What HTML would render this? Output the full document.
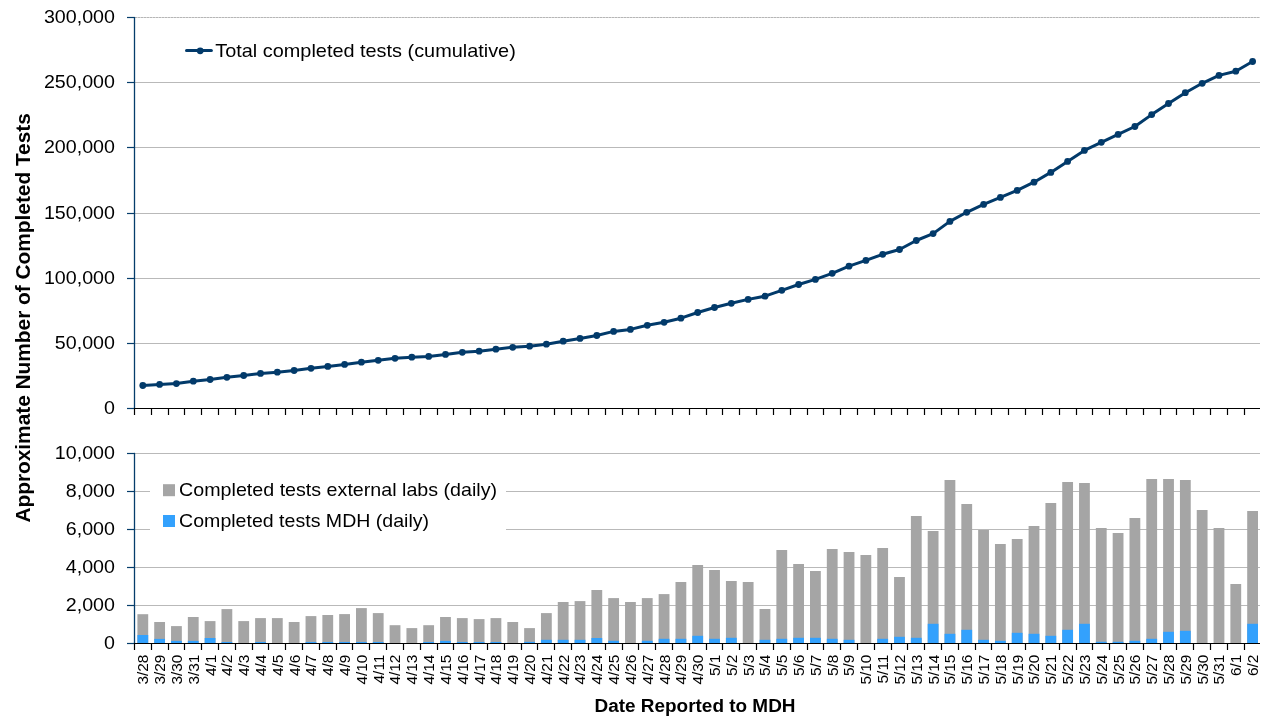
<!DOCTYPE html><html><head><meta charset="utf-8"><title>Completed Tests</title><style>html,body{margin:0;padding:0;background:#fff;width:1280px;height:720px;overflow:hidden}svg{display:block;will-change:transform}text{font-family:"Liberation Sans",sans-serif}</style></head><body>
<svg width="1280" height="720" viewBox="0 0 1280 720">
<rect width="1280" height="720" fill="#fff"/>
<line x1="135" y1="17.5" x2="1260.0" y2="17.5" stroke="#D6D6D6" stroke-width="1"/>
<line x1="135" y1="17.5" x2="1260.0" y2="17.5" stroke="#B6B6B6" stroke-width="1" stroke-dasharray="2,1"/>
<line x1="135" y1="82.5" x2="1260.0" y2="82.5" stroke="#B9B9B9" stroke-width="1"/>
<line x1="135" y1="147.5" x2="1260.0" y2="147.5" stroke="#B9B9B9" stroke-width="1"/>
<line x1="135" y1="213.5" x2="1260.0" y2="213.5" stroke="#B9B9B9" stroke-width="1"/>
<line x1="135" y1="278.5" x2="1260.0" y2="278.5" stroke="#B9B9B9" stroke-width="1"/>
<line x1="135" y1="343.5" x2="1260.0" y2="343.5" stroke="#B9B9B9" stroke-width="1"/>
<line x1="127" y1="17.5" x2="135" y2="17.5" stroke="#053D6B" stroke-width="1.2"/>
<line x1="127" y1="82.5" x2="135" y2="82.5" stroke="#053D6B" stroke-width="1.2"/>
<line x1="127" y1="147.5" x2="135" y2="147.5" stroke="#053D6B" stroke-width="1.2"/>
<line x1="127" y1="213.5" x2="135" y2="213.5" stroke="#053D6B" stroke-width="1.2"/>
<line x1="127" y1="278.5" x2="135" y2="278.5" stroke="#053D6B" stroke-width="1.2"/>
<line x1="127" y1="343.5" x2="135" y2="343.5" stroke="#053D6B" stroke-width="1.2"/>
<line x1="127" y1="408.5" x2="135" y2="408.5" stroke="#053D6B" stroke-width="1.2"/>
<line x1="134.5" y1="16.9" x2="134.5" y2="408.5" stroke="#053D6B" stroke-width="1.3"/>
<line x1="134" y1="408.5" x2="1260.0" y2="408.5" stroke="#000" stroke-width="1.2"/>
<line x1="134.5" y1="408.5" x2="134.5" y2="415" stroke="#000" stroke-width="1.2"/>
<line x1="151.5" y1="408.5" x2="151.5" y2="415" stroke="#000" stroke-width="1.2"/>
<line x1="168.5" y1="408.5" x2="168.5" y2="415" stroke="#000" stroke-width="1.2"/>
<line x1="184.5" y1="408.5" x2="184.5" y2="415" stroke="#000" stroke-width="1.2"/>
<line x1="201.5" y1="408.5" x2="201.5" y2="415" stroke="#000" stroke-width="1.2"/>
<line x1="218.5" y1="408.5" x2="218.5" y2="415" stroke="#000" stroke-width="1.2"/>
<line x1="235.5" y1="408.5" x2="235.5" y2="415" stroke="#000" stroke-width="1.2"/>
<line x1="252.5" y1="408.5" x2="252.5" y2="415" stroke="#000" stroke-width="1.2"/>
<line x1="268.5" y1="408.5" x2="268.5" y2="415" stroke="#000" stroke-width="1.2"/>
<line x1="285.5" y1="408.5" x2="285.5" y2="415" stroke="#000" stroke-width="1.2"/>
<line x1="302.5" y1="408.5" x2="302.5" y2="415" stroke="#000" stroke-width="1.2"/>
<line x1="319.5" y1="408.5" x2="319.5" y2="415" stroke="#000" stroke-width="1.2"/>
<line x1="336.5" y1="408.5" x2="336.5" y2="415" stroke="#000" stroke-width="1.2"/>
<line x1="352.5" y1="408.5" x2="352.5" y2="415" stroke="#000" stroke-width="1.2"/>
<line x1="369.5" y1="408.5" x2="369.5" y2="415" stroke="#000" stroke-width="1.2"/>
<line x1="386.5" y1="408.5" x2="386.5" y2="415" stroke="#000" stroke-width="1.2"/>
<line x1="403.5" y1="408.5" x2="403.5" y2="415" stroke="#000" stroke-width="1.2"/>
<line x1="420.5" y1="408.5" x2="420.5" y2="415" stroke="#000" stroke-width="1.2"/>
<line x1="437.5" y1="408.5" x2="437.5" y2="415" stroke="#000" stroke-width="1.2"/>
<line x1="453.5" y1="408.5" x2="453.5" y2="415" stroke="#000" stroke-width="1.2"/>
<line x1="470.5" y1="408.5" x2="470.5" y2="415" stroke="#000" stroke-width="1.2"/>
<line x1="487.5" y1="408.5" x2="487.5" y2="415" stroke="#000" stroke-width="1.2"/>
<line x1="504.5" y1="408.5" x2="504.5" y2="415" stroke="#000" stroke-width="1.2"/>
<line x1="521.5" y1="408.5" x2="521.5" y2="415" stroke="#000" stroke-width="1.2"/>
<line x1="537.5" y1="408.5" x2="537.5" y2="415" stroke="#000" stroke-width="1.2"/>
<line x1="554.5" y1="408.5" x2="554.5" y2="415" stroke="#000" stroke-width="1.2"/>
<line x1="571.5" y1="408.5" x2="571.5" y2="415" stroke="#000" stroke-width="1.2"/>
<line x1="588.5" y1="408.5" x2="588.5" y2="415" stroke="#000" stroke-width="1.2"/>
<line x1="605.5" y1="408.5" x2="605.5" y2="415" stroke="#000" stroke-width="1.2"/>
<line x1="622.5" y1="408.5" x2="622.5" y2="415" stroke="#000" stroke-width="1.2"/>
<line x1="638.5" y1="408.5" x2="638.5" y2="415" stroke="#000" stroke-width="1.2"/>
<line x1="655.5" y1="408.5" x2="655.5" y2="415" stroke="#000" stroke-width="1.2"/>
<line x1="672.5" y1="408.5" x2="672.5" y2="415" stroke="#000" stroke-width="1.2"/>
<line x1="689.5" y1="408.5" x2="689.5" y2="415" stroke="#000" stroke-width="1.2"/>
<line x1="706.5" y1="408.5" x2="706.5" y2="415" stroke="#000" stroke-width="1.2"/>
<line x1="722.5" y1="408.5" x2="722.5" y2="415" stroke="#000" stroke-width="1.2"/>
<line x1="739.5" y1="408.5" x2="739.5" y2="415" stroke="#000" stroke-width="1.2"/>
<line x1="756.5" y1="408.5" x2="756.5" y2="415" stroke="#000" stroke-width="1.2"/>
<line x1="773.5" y1="408.5" x2="773.5" y2="415" stroke="#000" stroke-width="1.2"/>
<line x1="790.5" y1="408.5" x2="790.5" y2="415" stroke="#000" stroke-width="1.2"/>
<line x1="807.5" y1="408.5" x2="807.5" y2="415" stroke="#000" stroke-width="1.2"/>
<line x1="823.5" y1="408.5" x2="823.5" y2="415" stroke="#000" stroke-width="1.2"/>
<line x1="840.5" y1="408.5" x2="840.5" y2="415" stroke="#000" stroke-width="1.2"/>
<line x1="857.5" y1="408.5" x2="857.5" y2="415" stroke="#000" stroke-width="1.2"/>
<line x1="874.5" y1="408.5" x2="874.5" y2="415" stroke="#000" stroke-width="1.2"/>
<line x1="891.5" y1="408.5" x2="891.5" y2="415" stroke="#000" stroke-width="1.2"/>
<line x1="907.5" y1="408.5" x2="907.5" y2="415" stroke="#000" stroke-width="1.2"/>
<line x1="924.5" y1="408.5" x2="924.5" y2="415" stroke="#000" stroke-width="1.2"/>
<line x1="941.5" y1="408.5" x2="941.5" y2="415" stroke="#000" stroke-width="1.2"/>
<line x1="958.5" y1="408.5" x2="958.5" y2="415" stroke="#000" stroke-width="1.2"/>
<line x1="975.5" y1="408.5" x2="975.5" y2="415" stroke="#000" stroke-width="1.2"/>
<line x1="991.5" y1="408.5" x2="991.5" y2="415" stroke="#000" stroke-width="1.2"/>
<line x1="1008.5" y1="408.5" x2="1008.5" y2="415" stroke="#000" stroke-width="1.2"/>
<line x1="1025.5" y1="408.5" x2="1025.5" y2="415" stroke="#000" stroke-width="1.2"/>
<line x1="1042.5" y1="408.5" x2="1042.5" y2="415" stroke="#000" stroke-width="1.2"/>
<line x1="1059.5" y1="408.5" x2="1059.5" y2="415" stroke="#000" stroke-width="1.2"/>
<line x1="1076.5" y1="408.5" x2="1076.5" y2="415" stroke="#000" stroke-width="1.2"/>
<line x1="1092.5" y1="408.5" x2="1092.5" y2="415" stroke="#000" stroke-width="1.2"/>
<line x1="1109.5" y1="408.5" x2="1109.5" y2="415" stroke="#000" stroke-width="1.2"/>
<line x1="1126.5" y1="408.5" x2="1126.5" y2="415" stroke="#000" stroke-width="1.2"/>
<line x1="1143.5" y1="408.5" x2="1143.5" y2="415" stroke="#000" stroke-width="1.2"/>
<line x1="1160.5" y1="408.5" x2="1160.5" y2="415" stroke="#000" stroke-width="1.2"/>
<line x1="1176.5" y1="408.5" x2="1176.5" y2="415" stroke="#000" stroke-width="1.2"/>
<line x1="1193.5" y1="408.5" x2="1193.5" y2="415" stroke="#000" stroke-width="1.2"/>
<line x1="1210.5" y1="408.5" x2="1210.5" y2="415" stroke="#000" stroke-width="1.2"/>
<line x1="1227.5" y1="408.5" x2="1227.5" y2="415" stroke="#000" stroke-width="1.2"/>
<line x1="1244.5" y1="408.5" x2="1244.5" y2="415" stroke="#000" stroke-width="1.2"/>
<text transform="translate(114.95,23.15) scale(1.08,1)" font-size="18.2" text-anchor="end">300,000</text>
<text transform="translate(114.95,88.15) scale(1.08,1)" font-size="18.2" text-anchor="end">250,000</text>
<text transform="translate(114.95,153.15) scale(1.08,1)" font-size="18.2" text-anchor="end">200,000</text>
<text transform="translate(114.95,219.15) scale(1.08,1)" font-size="18.2" text-anchor="end">150,000</text>
<text transform="translate(114.95,284.15) scale(1.08,1)" font-size="18.2" text-anchor="end">100,000</text>
<text transform="translate(114.95,349.15) scale(1.08,1)" font-size="18.2" text-anchor="end">50,000</text>
<text transform="translate(114.95,414.15) scale(1.08,1)" font-size="18.2" text-anchor="end">0</text>
<polyline points="142.8,385.5 159.6,384.4 176.4,383.6 193.3,381.2 210.1,379.5 226.9,377.3 243.7,375.5 260.5,373.4 277.3,372.2 294.1,370.5 311.0,368.3 327.8,366.4 344.6,364.4 361.4,362.2 378.2,360.3 395.0,358.3 411.8,357.2 428.7,356.4 445.5,354.4 462.3,352.3 479.1,351.2 495.9,349.2 512.7,347.3 529.6,346.2 546.4,344.2 563.2,341.2 580.0,338.4 596.8,335.5 613.6,331.4 630.4,329.4 647.3,325.3 664.1,322.3 680.9,318.2 697.7,312.5 714.5,307.5 731.3,303.3 748.1,299.4 765.0,296.2 781.8,290.3 798.6,284.5 815.4,279.4 832.2,273.3 849.0,266.2 865.9,260.4 882.7,254.3 899.5,249.5 916.3,240.5 933.1,233.6 949.9,221.4 966.7,212.3 983.6,204.4 1000.4,197.4 1017.2,190.4 1034.0,182.2 1050.8,172.4 1067.6,161.4 1084.4,150.4 1101.3,142.3 1118.1,134.4 1134.9,126.5 1151.7,114.6 1168.5,103.5 1185.3,92.7 1202.2,83.3 1219.0,75.4 1235.8,71.2 1252.6,61.5" fill="none" stroke="#023A6A" stroke-width="3" stroke-linejoin="round"/>
<circle cx="142.8" cy="385.5" r="3.4" fill="#023A6A"/>
<circle cx="159.6" cy="384.4" r="3.4" fill="#023A6A"/>
<circle cx="176.4" cy="383.6" r="3.4" fill="#023A6A"/>
<circle cx="193.3" cy="381.2" r="3.4" fill="#023A6A"/>
<circle cx="210.1" cy="379.5" r="3.4" fill="#023A6A"/>
<circle cx="226.9" cy="377.3" r="3.4" fill="#023A6A"/>
<circle cx="243.7" cy="375.5" r="3.4" fill="#023A6A"/>
<circle cx="260.5" cy="373.4" r="3.4" fill="#023A6A"/>
<circle cx="277.3" cy="372.2" r="3.4" fill="#023A6A"/>
<circle cx="294.1" cy="370.5" r="3.4" fill="#023A6A"/>
<circle cx="311.0" cy="368.3" r="3.4" fill="#023A6A"/>
<circle cx="327.8" cy="366.4" r="3.4" fill="#023A6A"/>
<circle cx="344.6" cy="364.4" r="3.4" fill="#023A6A"/>
<circle cx="361.4" cy="362.2" r="3.4" fill="#023A6A"/>
<circle cx="378.2" cy="360.3" r="3.4" fill="#023A6A"/>
<circle cx="395.0" cy="358.3" r="3.4" fill="#023A6A"/>
<circle cx="411.8" cy="357.2" r="3.4" fill="#023A6A"/>
<circle cx="428.7" cy="356.4" r="3.4" fill="#023A6A"/>
<circle cx="445.5" cy="354.4" r="3.4" fill="#023A6A"/>
<circle cx="462.3" cy="352.3" r="3.4" fill="#023A6A"/>
<circle cx="479.1" cy="351.2" r="3.4" fill="#023A6A"/>
<circle cx="495.9" cy="349.2" r="3.4" fill="#023A6A"/>
<circle cx="512.7" cy="347.3" r="3.4" fill="#023A6A"/>
<circle cx="529.6" cy="346.2" r="3.4" fill="#023A6A"/>
<circle cx="546.4" cy="344.2" r="3.4" fill="#023A6A"/>
<circle cx="563.2" cy="341.2" r="3.4" fill="#023A6A"/>
<circle cx="580.0" cy="338.4" r="3.4" fill="#023A6A"/>
<circle cx="596.8" cy="335.5" r="3.4" fill="#023A6A"/>
<circle cx="613.6" cy="331.4" r="3.4" fill="#023A6A"/>
<circle cx="630.4" cy="329.4" r="3.4" fill="#023A6A"/>
<circle cx="647.3" cy="325.3" r="3.4" fill="#023A6A"/>
<circle cx="664.1" cy="322.3" r="3.4" fill="#023A6A"/>
<circle cx="680.9" cy="318.2" r="3.4" fill="#023A6A"/>
<circle cx="697.7" cy="312.5" r="3.4" fill="#023A6A"/>
<circle cx="714.5" cy="307.5" r="3.4" fill="#023A6A"/>
<circle cx="731.3" cy="303.3" r="3.4" fill="#023A6A"/>
<circle cx="748.1" cy="299.4" r="3.4" fill="#023A6A"/>
<circle cx="765.0" cy="296.2" r="3.4" fill="#023A6A"/>
<circle cx="781.8" cy="290.3" r="3.4" fill="#023A6A"/>
<circle cx="798.6" cy="284.5" r="3.4" fill="#023A6A"/>
<circle cx="815.4" cy="279.4" r="3.4" fill="#023A6A"/>
<circle cx="832.2" cy="273.3" r="3.4" fill="#023A6A"/>
<circle cx="849.0" cy="266.2" r="3.4" fill="#023A6A"/>
<circle cx="865.9" cy="260.4" r="3.4" fill="#023A6A"/>
<circle cx="882.7" cy="254.3" r="3.4" fill="#023A6A"/>
<circle cx="899.5" cy="249.5" r="3.4" fill="#023A6A"/>
<circle cx="916.3" cy="240.5" r="3.4" fill="#023A6A"/>
<circle cx="933.1" cy="233.6" r="3.4" fill="#023A6A"/>
<circle cx="949.9" cy="221.4" r="3.4" fill="#023A6A"/>
<circle cx="966.7" cy="212.3" r="3.4" fill="#023A6A"/>
<circle cx="983.6" cy="204.4" r="3.4" fill="#023A6A"/>
<circle cx="1000.4" cy="197.4" r="3.4" fill="#023A6A"/>
<circle cx="1017.2" cy="190.4" r="3.4" fill="#023A6A"/>
<circle cx="1034.0" cy="182.2" r="3.4" fill="#023A6A"/>
<circle cx="1050.8" cy="172.4" r="3.4" fill="#023A6A"/>
<circle cx="1067.6" cy="161.4" r="3.4" fill="#023A6A"/>
<circle cx="1084.4" cy="150.4" r="3.4" fill="#023A6A"/>
<circle cx="1101.3" cy="142.3" r="3.4" fill="#023A6A"/>
<circle cx="1118.1" cy="134.4" r="3.4" fill="#023A6A"/>
<circle cx="1134.9" cy="126.5" r="3.4" fill="#023A6A"/>
<circle cx="1151.7" cy="114.6" r="3.4" fill="#023A6A"/>
<circle cx="1168.5" cy="103.5" r="3.4" fill="#023A6A"/>
<circle cx="1185.3" cy="92.7" r="3.4" fill="#023A6A"/>
<circle cx="1202.2" cy="83.3" r="3.4" fill="#023A6A"/>
<circle cx="1219.0" cy="75.4" r="3.4" fill="#023A6A"/>
<circle cx="1235.8" cy="71.2" r="3.4" fill="#023A6A"/>
<circle cx="1252.6" cy="61.5" r="3.4" fill="#023A6A"/>
<line x1="186.5" y1="50.6" x2="211.4" y2="50.6" stroke="#023A6A" stroke-width="3" stroke-linecap="round"/>
<circle cx="200.2" cy="50.8" r="3.4" fill="#023A6A"/>
<text x="215.3" y="56.9" font-size="17.7" textLength="300.5" lengthAdjust="spacingAndGlyphs">Total completed tests (cumulative)</text>
<line x1="135" y1="453.5" x2="1260.0" y2="453.5" stroke="#B9B9B9" stroke-width="1"/>
<line x1="135" y1="491.5" x2="1260.0" y2="491.5" stroke="#B9B9B9" stroke-width="1"/>
<line x1="135" y1="529.5" x2="1260.0" y2="529.5" stroke="#B9B9B9" stroke-width="1"/>
<line x1="135" y1="567.5" x2="1260.0" y2="567.5" stroke="#B9B9B9" stroke-width="1"/>
<line x1="135" y1="605.5" x2="1260.0" y2="605.5" stroke="#B9B9B9" stroke-width="1"/>
<rect x="137.41" y="614.2" width="10.8" height="29.3" fill="#A5A5A5"/>
<rect x="137.41" y="635.0" width="10.8" height="8.5" fill="#33A1FD"/>
<rect x="154.22" y="622.0" width="10.8" height="21.5" fill="#A5A5A5"/>
<rect x="154.22" y="638.9" width="10.8" height="4.6" fill="#33A1FD"/>
<rect x="171.04" y="626.1" width="10.8" height="17.4" fill="#A5A5A5"/>
<rect x="171.04" y="640.9" width="10.8" height="2.6" fill="#33A1FD"/>
<rect x="187.85" y="617.0" width="10.8" height="26.5" fill="#A5A5A5"/>
<rect x="187.85" y="640.9" width="10.8" height="2.6" fill="#33A1FD"/>
<rect x="204.67" y="621.1" width="10.8" height="22.4" fill="#A5A5A5"/>
<rect x="204.67" y="638.0" width="10.8" height="5.5" fill="#33A1FD"/>
<rect x="221.48" y="609.1" width="10.8" height="34.4" fill="#A5A5A5"/>
<rect x="221.48" y="642.0" width="10.8" height="1.5" fill="#33A1FD"/>
<rect x="238.30" y="621.1" width="10.8" height="22.4" fill="#A5A5A5"/>
<rect x="255.11" y="618.1" width="10.8" height="25.4" fill="#A5A5A5"/>
<rect x="255.11" y="642.0" width="10.8" height="1.5" fill="#33A1FD"/>
<rect x="271.93" y="618.1" width="10.8" height="25.4" fill="#A5A5A5"/>
<rect x="288.74" y="622.0" width="10.8" height="21.5" fill="#A5A5A5"/>
<rect x="305.56" y="616.1" width="10.8" height="27.4" fill="#A5A5A5"/>
<rect x="305.56" y="642.0" width="10.8" height="1.5" fill="#33A1FD"/>
<rect x="322.37" y="615.0" width="10.8" height="28.5" fill="#A5A5A5"/>
<rect x="322.37" y="642.0" width="10.8" height="1.5" fill="#33A1FD"/>
<rect x="339.19" y="614.1" width="10.8" height="29.4" fill="#A5A5A5"/>
<rect x="339.19" y="642.0" width="10.8" height="1.5" fill="#33A1FD"/>
<rect x="356.00" y="608.1" width="10.8" height="35.4" fill="#A5A5A5"/>
<rect x="356.00" y="642.0" width="10.8" height="1.5" fill="#33A1FD"/>
<rect x="372.82" y="613.1" width="10.8" height="30.4" fill="#A5A5A5"/>
<rect x="372.82" y="642.0" width="10.8" height="1.5" fill="#33A1FD"/>
<rect x="389.63" y="625.2" width="10.8" height="18.3" fill="#A5A5A5"/>
<rect x="406.45" y="628.1" width="10.8" height="15.4" fill="#A5A5A5"/>
<rect x="423.26" y="625.2" width="10.8" height="18.3" fill="#A5A5A5"/>
<rect x="423.26" y="642.0" width="10.8" height="1.5" fill="#33A1FD"/>
<rect x="440.08" y="617.0" width="10.8" height="26.5" fill="#A5A5A5"/>
<rect x="440.08" y="640.9" width="10.8" height="2.6" fill="#33A1FD"/>
<rect x="456.89" y="618.1" width="10.8" height="25.4" fill="#A5A5A5"/>
<rect x="456.89" y="642.0" width="10.8" height="1.5" fill="#33A1FD"/>
<rect x="473.71" y="619.1" width="10.8" height="24.4" fill="#A5A5A5"/>
<rect x="473.71" y="642.0" width="10.8" height="1.5" fill="#33A1FD"/>
<rect x="490.52" y="618.1" width="10.8" height="25.4" fill="#A5A5A5"/>
<rect x="490.52" y="642.0" width="10.8" height="1.5" fill="#33A1FD"/>
<rect x="507.34" y="622.0" width="10.8" height="21.5" fill="#A5A5A5"/>
<rect x="524.15" y="628.1" width="10.8" height="15.4" fill="#A5A5A5"/>
<rect x="524.15" y="641.9" width="10.8" height="1.6" fill="#33A1FD"/>
<rect x="540.97" y="613.1" width="10.8" height="30.4" fill="#A5A5A5"/>
<rect x="540.97" y="639.8" width="10.8" height="3.7" fill="#33A1FD"/>
<rect x="557.78" y="602.0" width="10.8" height="41.5" fill="#A5A5A5"/>
<rect x="557.78" y="639.8" width="10.8" height="3.7" fill="#33A1FD"/>
<rect x="574.60" y="601.1" width="10.8" height="42.4" fill="#A5A5A5"/>
<rect x="574.60" y="639.8" width="10.8" height="3.7" fill="#33A1FD"/>
<rect x="591.41" y="590.0" width="10.8" height="53.5" fill="#A5A5A5"/>
<rect x="591.41" y="638.0" width="10.8" height="5.5" fill="#33A1FD"/>
<rect x="608.23" y="598.1" width="10.8" height="45.4" fill="#A5A5A5"/>
<rect x="608.23" y="640.8" width="10.8" height="2.7" fill="#33A1FD"/>
<rect x="625.04" y="602.0" width="10.8" height="41.5" fill="#A5A5A5"/>
<rect x="641.86" y="598.1" width="10.8" height="45.4" fill="#A5A5A5"/>
<rect x="641.86" y="640.8" width="10.8" height="2.7" fill="#33A1FD"/>
<rect x="658.67" y="594.1" width="10.8" height="49.4" fill="#A5A5A5"/>
<rect x="658.67" y="638.8" width="10.8" height="4.8" fill="#33A1FD"/>
<rect x="675.49" y="582.0" width="10.8" height="61.5" fill="#A5A5A5"/>
<rect x="675.49" y="638.8" width="10.8" height="4.8" fill="#33A1FD"/>
<rect x="692.30" y="565.0" width="10.8" height="78.5" fill="#A5A5A5"/>
<rect x="692.30" y="635.8" width="10.8" height="7.7" fill="#33A1FD"/>
<rect x="709.12" y="570.0" width="10.8" height="73.5" fill="#A5A5A5"/>
<rect x="709.12" y="638.8" width="10.8" height="4.7" fill="#33A1FD"/>
<rect x="725.93" y="581.0" width="10.8" height="62.5" fill="#A5A5A5"/>
<rect x="725.93" y="637.8" width="10.8" height="5.7" fill="#33A1FD"/>
<rect x="742.75" y="582.0" width="10.8" height="61.5" fill="#A5A5A5"/>
<rect x="759.56" y="609.0" width="10.8" height="34.5" fill="#A5A5A5"/>
<rect x="759.56" y="639.8" width="10.8" height="3.7" fill="#33A1FD"/>
<rect x="776.38" y="550.0" width="10.8" height="93.5" fill="#A5A5A5"/>
<rect x="776.38" y="638.8" width="10.8" height="4.7" fill="#33A1FD"/>
<rect x="793.19" y="564.0" width="10.8" height="79.5" fill="#A5A5A5"/>
<rect x="793.19" y="637.8" width="10.8" height="5.7" fill="#33A1FD"/>
<rect x="810.01" y="571.0" width="10.8" height="72.5" fill="#A5A5A5"/>
<rect x="810.01" y="637.8" width="10.8" height="5.7" fill="#33A1FD"/>
<rect x="826.82" y="549.0" width="10.8" height="94.5" fill="#A5A5A5"/>
<rect x="826.82" y="638.8" width="10.8" height="4.7" fill="#33A1FD"/>
<rect x="843.64" y="552.0" width="10.8" height="91.5" fill="#A5A5A5"/>
<rect x="843.64" y="639.8" width="10.8" height="3.7" fill="#33A1FD"/>
<rect x="860.45" y="555.0" width="10.8" height="88.5" fill="#A5A5A5"/>
<rect x="877.27" y="548.0" width="10.8" height="95.5" fill="#A5A5A5"/>
<rect x="877.27" y="638.8" width="10.8" height="4.8" fill="#33A1FD"/>
<rect x="894.08" y="577.0" width="10.8" height="66.5" fill="#A5A5A5"/>
<rect x="894.08" y="636.8" width="10.8" height="6.8" fill="#33A1FD"/>
<rect x="910.90" y="516.0" width="10.8" height="127.5" fill="#A5A5A5"/>
<rect x="910.90" y="637.8" width="10.8" height="5.8" fill="#33A1FD"/>
<rect x="927.71" y="531.0" width="10.8" height="112.5" fill="#A5A5A5"/>
<rect x="927.71" y="623.8" width="10.8" height="19.8" fill="#33A1FD"/>
<rect x="944.53" y="480.0" width="10.8" height="163.5" fill="#A5A5A5"/>
<rect x="944.53" y="633.8" width="10.8" height="9.8" fill="#33A1FD"/>
<rect x="961.34" y="504.0" width="10.8" height="139.5" fill="#A5A5A5"/>
<rect x="961.34" y="629.8" width="10.8" height="13.8" fill="#33A1FD"/>
<rect x="978.16" y="530.0" width="10.8" height="113.5" fill="#A5A5A5"/>
<rect x="978.16" y="639.8" width="10.8" height="3.8" fill="#33A1FD"/>
<rect x="994.97" y="544.0" width="10.8" height="99.5" fill="#A5A5A5"/>
<rect x="994.97" y="640.8" width="10.8" height="2.8" fill="#33A1FD"/>
<rect x="1011.79" y="539.0" width="10.8" height="104.5" fill="#A5A5A5"/>
<rect x="1011.79" y="632.8" width="10.8" height="10.8" fill="#33A1FD"/>
<rect x="1028.60" y="526.0" width="10.8" height="117.5" fill="#A5A5A5"/>
<rect x="1028.60" y="633.8" width="10.8" height="9.8" fill="#33A1FD"/>
<rect x="1045.42" y="503.0" width="10.8" height="140.5" fill="#A5A5A5"/>
<rect x="1045.42" y="635.8" width="10.8" height="7.8" fill="#33A1FD"/>
<rect x="1062.23" y="482.0" width="10.8" height="161.5" fill="#A5A5A5"/>
<rect x="1062.23" y="629.8" width="10.8" height="13.8" fill="#33A1FD"/>
<rect x="1079.05" y="483.0" width="10.8" height="160.5" fill="#A5A5A5"/>
<rect x="1079.05" y="623.8" width="10.8" height="19.8" fill="#33A1FD"/>
<rect x="1095.86" y="528.0" width="10.8" height="115.5" fill="#A5A5A5"/>
<rect x="1095.86" y="641.8" width="10.8" height="1.8" fill="#33A1FD"/>
<rect x="1112.68" y="533.0" width="10.8" height="110.5" fill="#A5A5A5"/>
<rect x="1112.68" y="641.8" width="10.8" height="1.8" fill="#33A1FD"/>
<rect x="1129.49" y="518.0" width="10.8" height="125.5" fill="#A5A5A5"/>
<rect x="1129.49" y="640.8" width="10.8" height="2.8" fill="#33A1FD"/>
<rect x="1146.31" y="479.0" width="10.8" height="164.5" fill="#A5A5A5"/>
<rect x="1146.31" y="638.8" width="10.8" height="4.8" fill="#33A1FD"/>
<rect x="1163.12" y="479.0" width="10.8" height="164.5" fill="#A5A5A5"/>
<rect x="1163.12" y="631.8" width="10.8" height="11.8" fill="#33A1FD"/>
<rect x="1179.94" y="480.0" width="10.8" height="163.5" fill="#A5A5A5"/>
<rect x="1179.94" y="630.8" width="10.8" height="12.8" fill="#33A1FD"/>
<rect x="1196.75" y="510.0" width="10.8" height="133.5" fill="#A5A5A5"/>
<rect x="1213.57" y="528.0" width="10.8" height="115.5" fill="#A5A5A5"/>
<rect x="1230.38" y="584.0" width="10.8" height="59.5" fill="#A5A5A5"/>
<rect x="1247.20" y="511.0" width="10.8" height="132.5" fill="#A5A5A5"/>
<rect x="1247.20" y="623.8" width="10.8" height="19.8" fill="#33A1FD"/>
<rect x="150" y="470" width="356" height="80" fill="#fff"/>
<rect x="163" y="484.2" width="12" height="12" fill="#A5A5A5"/>
<rect x="163" y="515" width="12" height="12" fill="#33A1FD"/>
<text x="179.1" y="495.8" font-size="17.7" textLength="318" lengthAdjust="spacingAndGlyphs">Completed tests external labs (daily)</text>
<text x="179.1" y="526.7" font-size="17.7" textLength="250" lengthAdjust="spacingAndGlyphs">Completed tests MDH (daily)</text>
<line x1="127" y1="453.5" x2="135" y2="453.5" stroke="#053D6B" stroke-width="1.2"/>
<line x1="127" y1="491.5" x2="135" y2="491.5" stroke="#053D6B" stroke-width="1.2"/>
<line x1="127" y1="529.5" x2="135" y2="529.5" stroke="#053D6B" stroke-width="1.2"/>
<line x1="127" y1="567.5" x2="135" y2="567.5" stroke="#053D6B" stroke-width="1.2"/>
<line x1="127" y1="605.5" x2="135" y2="605.5" stroke="#053D6B" stroke-width="1.2"/>
<line x1="127" y1="643.5" x2="135" y2="643.5" stroke="#053D6B" stroke-width="1.2"/>
<line x1="134.5" y1="452.9" x2="134.5" y2="643.5" stroke="#053D6B" stroke-width="1.3"/>
<line x1="134" y1="643.5" x2="1260.0" y2="643.5" stroke="#000" stroke-width="1.2"/>
<line x1="134.5" y1="643.5" x2="134.5" y2="650" stroke="#000" stroke-width="1.2"/>
<line x1="151.5" y1="643.5" x2="151.5" y2="650" stroke="#000" stroke-width="1.2"/>
<line x1="168.5" y1="643.5" x2="168.5" y2="650" stroke="#000" stroke-width="1.2"/>
<line x1="184.5" y1="643.5" x2="184.5" y2="650" stroke="#000" stroke-width="1.2"/>
<line x1="201.5" y1="643.5" x2="201.5" y2="650" stroke="#000" stroke-width="1.2"/>
<line x1="218.5" y1="643.5" x2="218.5" y2="650" stroke="#000" stroke-width="1.2"/>
<line x1="235.5" y1="643.5" x2="235.5" y2="650" stroke="#000" stroke-width="1.2"/>
<line x1="252.5" y1="643.5" x2="252.5" y2="650" stroke="#000" stroke-width="1.2"/>
<line x1="268.5" y1="643.5" x2="268.5" y2="650" stroke="#000" stroke-width="1.2"/>
<line x1="285.5" y1="643.5" x2="285.5" y2="650" stroke="#000" stroke-width="1.2"/>
<line x1="302.5" y1="643.5" x2="302.5" y2="650" stroke="#000" stroke-width="1.2"/>
<line x1="319.5" y1="643.5" x2="319.5" y2="650" stroke="#000" stroke-width="1.2"/>
<line x1="336.5" y1="643.5" x2="336.5" y2="650" stroke="#000" stroke-width="1.2"/>
<line x1="352.5" y1="643.5" x2="352.5" y2="650" stroke="#000" stroke-width="1.2"/>
<line x1="369.5" y1="643.5" x2="369.5" y2="650" stroke="#000" stroke-width="1.2"/>
<line x1="386.5" y1="643.5" x2="386.5" y2="650" stroke="#000" stroke-width="1.2"/>
<line x1="403.5" y1="643.5" x2="403.5" y2="650" stroke="#000" stroke-width="1.2"/>
<line x1="420.5" y1="643.5" x2="420.5" y2="650" stroke="#000" stroke-width="1.2"/>
<line x1="437.5" y1="643.5" x2="437.5" y2="650" stroke="#000" stroke-width="1.2"/>
<line x1="453.5" y1="643.5" x2="453.5" y2="650" stroke="#000" stroke-width="1.2"/>
<line x1="470.5" y1="643.5" x2="470.5" y2="650" stroke="#000" stroke-width="1.2"/>
<line x1="487.5" y1="643.5" x2="487.5" y2="650" stroke="#000" stroke-width="1.2"/>
<line x1="504.5" y1="643.5" x2="504.5" y2="650" stroke="#000" stroke-width="1.2"/>
<line x1="521.5" y1="643.5" x2="521.5" y2="650" stroke="#000" stroke-width="1.2"/>
<line x1="537.5" y1="643.5" x2="537.5" y2="650" stroke="#000" stroke-width="1.2"/>
<line x1="554.5" y1="643.5" x2="554.5" y2="650" stroke="#000" stroke-width="1.2"/>
<line x1="571.5" y1="643.5" x2="571.5" y2="650" stroke="#000" stroke-width="1.2"/>
<line x1="588.5" y1="643.5" x2="588.5" y2="650" stroke="#000" stroke-width="1.2"/>
<line x1="605.5" y1="643.5" x2="605.5" y2="650" stroke="#000" stroke-width="1.2"/>
<line x1="622.5" y1="643.5" x2="622.5" y2="650" stroke="#000" stroke-width="1.2"/>
<line x1="638.5" y1="643.5" x2="638.5" y2="650" stroke="#000" stroke-width="1.2"/>
<line x1="655.5" y1="643.5" x2="655.5" y2="650" stroke="#000" stroke-width="1.2"/>
<line x1="672.5" y1="643.5" x2="672.5" y2="650" stroke="#000" stroke-width="1.2"/>
<line x1="689.5" y1="643.5" x2="689.5" y2="650" stroke="#000" stroke-width="1.2"/>
<line x1="706.5" y1="643.5" x2="706.5" y2="650" stroke="#000" stroke-width="1.2"/>
<line x1="722.5" y1="643.5" x2="722.5" y2="650" stroke="#000" stroke-width="1.2"/>
<line x1="739.5" y1="643.5" x2="739.5" y2="650" stroke="#000" stroke-width="1.2"/>
<line x1="756.5" y1="643.5" x2="756.5" y2="650" stroke="#000" stroke-width="1.2"/>
<line x1="773.5" y1="643.5" x2="773.5" y2="650" stroke="#000" stroke-width="1.2"/>
<line x1="790.5" y1="643.5" x2="790.5" y2="650" stroke="#000" stroke-width="1.2"/>
<line x1="807.5" y1="643.5" x2="807.5" y2="650" stroke="#000" stroke-width="1.2"/>
<line x1="823.5" y1="643.5" x2="823.5" y2="650" stroke="#000" stroke-width="1.2"/>
<line x1="840.5" y1="643.5" x2="840.5" y2="650" stroke="#000" stroke-width="1.2"/>
<line x1="857.5" y1="643.5" x2="857.5" y2="650" stroke="#000" stroke-width="1.2"/>
<line x1="874.5" y1="643.5" x2="874.5" y2="650" stroke="#000" stroke-width="1.2"/>
<line x1="891.5" y1="643.5" x2="891.5" y2="650" stroke="#000" stroke-width="1.2"/>
<line x1="907.5" y1="643.5" x2="907.5" y2="650" stroke="#000" stroke-width="1.2"/>
<line x1="924.5" y1="643.5" x2="924.5" y2="650" stroke="#000" stroke-width="1.2"/>
<line x1="941.5" y1="643.5" x2="941.5" y2="650" stroke="#000" stroke-width="1.2"/>
<line x1="958.5" y1="643.5" x2="958.5" y2="650" stroke="#000" stroke-width="1.2"/>
<line x1="975.5" y1="643.5" x2="975.5" y2="650" stroke="#000" stroke-width="1.2"/>
<line x1="991.5" y1="643.5" x2="991.5" y2="650" stroke="#000" stroke-width="1.2"/>
<line x1="1008.5" y1="643.5" x2="1008.5" y2="650" stroke="#000" stroke-width="1.2"/>
<line x1="1025.5" y1="643.5" x2="1025.5" y2="650" stroke="#000" stroke-width="1.2"/>
<line x1="1042.5" y1="643.5" x2="1042.5" y2="650" stroke="#000" stroke-width="1.2"/>
<line x1="1059.5" y1="643.5" x2="1059.5" y2="650" stroke="#000" stroke-width="1.2"/>
<line x1="1076.5" y1="643.5" x2="1076.5" y2="650" stroke="#000" stroke-width="1.2"/>
<line x1="1092.5" y1="643.5" x2="1092.5" y2="650" stroke="#000" stroke-width="1.2"/>
<line x1="1109.5" y1="643.5" x2="1109.5" y2="650" stroke="#000" stroke-width="1.2"/>
<line x1="1126.5" y1="643.5" x2="1126.5" y2="650" stroke="#000" stroke-width="1.2"/>
<line x1="1143.5" y1="643.5" x2="1143.5" y2="650" stroke="#000" stroke-width="1.2"/>
<line x1="1160.5" y1="643.5" x2="1160.5" y2="650" stroke="#000" stroke-width="1.2"/>
<line x1="1176.5" y1="643.5" x2="1176.5" y2="650" stroke="#000" stroke-width="1.2"/>
<line x1="1193.5" y1="643.5" x2="1193.5" y2="650" stroke="#000" stroke-width="1.2"/>
<line x1="1210.5" y1="643.5" x2="1210.5" y2="650" stroke="#000" stroke-width="1.2"/>
<line x1="1227.5" y1="643.5" x2="1227.5" y2="650" stroke="#000" stroke-width="1.2"/>
<line x1="1244.5" y1="643.5" x2="1244.5" y2="650" stroke="#000" stroke-width="1.2"/>
<text transform="translate(114.95,459.15) scale(1.08,1)" font-size="18.2" text-anchor="end">10,000</text>
<text transform="translate(114.95,497.15) scale(1.08,1)" font-size="18.2" text-anchor="end">8,000</text>
<text transform="translate(114.95,535.15) scale(1.08,1)" font-size="18.2" text-anchor="end">6,000</text>
<text transform="translate(114.95,573.15) scale(1.08,1)" font-size="18.2" text-anchor="end">4,000</text>
<text transform="translate(114.95,611.15) scale(1.08,1)" font-size="18.2" text-anchor="end">2,000</text>
<text transform="translate(114.95,649.15) scale(1.08,1)" font-size="18.2" text-anchor="end">0</text>
<text transform="translate(148.2,654.6) rotate(-90) scale(1.035,1)" font-size="14.9" text-anchor="end">3/28</text>
<text transform="translate(165.0,654.6) rotate(-90) scale(1.035,1)" font-size="14.9" text-anchor="end">3/29</text>
<text transform="translate(181.8,654.6) rotate(-90) scale(1.035,1)" font-size="14.9" text-anchor="end">3/30</text>
<text transform="translate(198.7,654.6) rotate(-90) scale(1.035,1)" font-size="14.9" text-anchor="end">3/31</text>
<text transform="translate(215.5,654.6) rotate(-90) scale(1.035,1)" font-size="14.9" text-anchor="end">4/1</text>
<text transform="translate(232.3,654.6) rotate(-90) scale(1.035,1)" font-size="14.9" text-anchor="end">4/2</text>
<text transform="translate(249.1,654.6) rotate(-90) scale(1.035,1)" font-size="14.9" text-anchor="end">4/3</text>
<text transform="translate(265.9,654.6) rotate(-90) scale(1.035,1)" font-size="14.9" text-anchor="end">4/4</text>
<text transform="translate(282.7,654.6) rotate(-90) scale(1.035,1)" font-size="14.9" text-anchor="end">4/5</text>
<text transform="translate(299.5,654.6) rotate(-90) scale(1.035,1)" font-size="14.9" text-anchor="end">4/6</text>
<text transform="translate(316.4,654.6) rotate(-90) scale(1.035,1)" font-size="14.9" text-anchor="end">4/7</text>
<text transform="translate(333.2,654.6) rotate(-90) scale(1.035,1)" font-size="14.9" text-anchor="end">4/8</text>
<text transform="translate(350.0,654.6) rotate(-90) scale(1.035,1)" font-size="14.9" text-anchor="end">4/9</text>
<text transform="translate(366.8,654.6) rotate(-90) scale(1.035,1)" font-size="14.9" text-anchor="end">4/10</text>
<text transform="translate(383.6,654.6) rotate(-90) scale(1.035,1)" font-size="14.9" text-anchor="end">4/11</text>
<text transform="translate(400.4,654.6) rotate(-90) scale(1.035,1)" font-size="14.9" text-anchor="end">4/12</text>
<text transform="translate(417.2,654.6) rotate(-90) scale(1.035,1)" font-size="14.9" text-anchor="end">4/13</text>
<text transform="translate(434.1,654.6) rotate(-90) scale(1.035,1)" font-size="14.9" text-anchor="end">4/14</text>
<text transform="translate(450.9,654.6) rotate(-90) scale(1.035,1)" font-size="14.9" text-anchor="end">4/15</text>
<text transform="translate(467.7,654.6) rotate(-90) scale(1.035,1)" font-size="14.9" text-anchor="end">4/16</text>
<text transform="translate(484.5,654.6) rotate(-90) scale(1.035,1)" font-size="14.9" text-anchor="end">4/17</text>
<text transform="translate(501.3,654.6) rotate(-90) scale(1.035,1)" font-size="14.9" text-anchor="end">4/18</text>
<text transform="translate(518.1,654.6) rotate(-90) scale(1.035,1)" font-size="14.9" text-anchor="end">4/19</text>
<text transform="translate(535.0,654.6) rotate(-90) scale(1.035,1)" font-size="14.9" text-anchor="end">4/20</text>
<text transform="translate(551.8,654.6) rotate(-90) scale(1.035,1)" font-size="14.9" text-anchor="end">4/21</text>
<text transform="translate(568.6,654.6) rotate(-90) scale(1.035,1)" font-size="14.9" text-anchor="end">4/22</text>
<text transform="translate(585.4,654.6) rotate(-90) scale(1.035,1)" font-size="14.9" text-anchor="end">4/23</text>
<text transform="translate(602.2,654.6) rotate(-90) scale(1.035,1)" font-size="14.9" text-anchor="end">4/24</text>
<text transform="translate(619.0,654.6) rotate(-90) scale(1.035,1)" font-size="14.9" text-anchor="end">4/25</text>
<text transform="translate(635.8,654.6) rotate(-90) scale(1.035,1)" font-size="14.9" text-anchor="end">4/26</text>
<text transform="translate(652.7,654.6) rotate(-90) scale(1.035,1)" font-size="14.9" text-anchor="end">4/27</text>
<text transform="translate(669.5,654.6) rotate(-90) scale(1.035,1)" font-size="14.9" text-anchor="end">4/28</text>
<text transform="translate(686.3,654.6) rotate(-90) scale(1.035,1)" font-size="14.9" text-anchor="end">4/29</text>
<text transform="translate(703.1,654.6) rotate(-90) scale(1.035,1)" font-size="14.9" text-anchor="end">4/30</text>
<text transform="translate(719.9,654.6) rotate(-90) scale(1.035,1)" font-size="14.9" text-anchor="end">5/1</text>
<text transform="translate(736.7,654.6) rotate(-90) scale(1.035,1)" font-size="14.9" text-anchor="end">5/2</text>
<text transform="translate(753.5,654.6) rotate(-90) scale(1.035,1)" font-size="14.9" text-anchor="end">5/3</text>
<text transform="translate(770.4,654.6) rotate(-90) scale(1.035,1)" font-size="14.9" text-anchor="end">5/4</text>
<text transform="translate(787.2,654.6) rotate(-90) scale(1.035,1)" font-size="14.9" text-anchor="end">5/5</text>
<text transform="translate(804.0,654.6) rotate(-90) scale(1.035,1)" font-size="14.9" text-anchor="end">5/6</text>
<text transform="translate(820.8,654.6) rotate(-90) scale(1.035,1)" font-size="14.9" text-anchor="end">5/7</text>
<text transform="translate(837.6,654.6) rotate(-90) scale(1.035,1)" font-size="14.9" text-anchor="end">5/8</text>
<text transform="translate(854.4,654.6) rotate(-90) scale(1.035,1)" font-size="14.9" text-anchor="end">5/9</text>
<text transform="translate(871.3,654.6) rotate(-90) scale(1.035,1)" font-size="14.9" text-anchor="end">5/10</text>
<text transform="translate(888.1,654.6) rotate(-90) scale(1.035,1)" font-size="14.9" text-anchor="end">5/11</text>
<text transform="translate(904.9,654.6) rotate(-90) scale(1.035,1)" font-size="14.9" text-anchor="end">5/12</text>
<text transform="translate(921.7,654.6) rotate(-90) scale(1.035,1)" font-size="14.9" text-anchor="end">5/13</text>
<text transform="translate(938.5,654.6) rotate(-90) scale(1.035,1)" font-size="14.9" text-anchor="end">5/14</text>
<text transform="translate(955.3,654.6) rotate(-90) scale(1.035,1)" font-size="14.9" text-anchor="end">5/15</text>
<text transform="translate(972.1,654.6) rotate(-90) scale(1.035,1)" font-size="14.9" text-anchor="end">5/16</text>
<text transform="translate(989.0,654.6) rotate(-90) scale(1.035,1)" font-size="14.9" text-anchor="end">5/17</text>
<text transform="translate(1005.8,654.6) rotate(-90) scale(1.035,1)" font-size="14.9" text-anchor="end">5/18</text>
<text transform="translate(1022.6,654.6) rotate(-90) scale(1.035,1)" font-size="14.9" text-anchor="end">5/19</text>
<text transform="translate(1039.4,654.6) rotate(-90) scale(1.035,1)" font-size="14.9" text-anchor="end">5/20</text>
<text transform="translate(1056.2,654.6) rotate(-90) scale(1.035,1)" font-size="14.9" text-anchor="end">5/21</text>
<text transform="translate(1073.0,654.6) rotate(-90) scale(1.035,1)" font-size="14.9" text-anchor="end">5/22</text>
<text transform="translate(1089.8,654.6) rotate(-90) scale(1.035,1)" font-size="14.9" text-anchor="end">5/23</text>
<text transform="translate(1106.7,654.6) rotate(-90) scale(1.035,1)" font-size="14.9" text-anchor="end">5/24</text>
<text transform="translate(1123.5,654.6) rotate(-90) scale(1.035,1)" font-size="14.9" text-anchor="end">5/25</text>
<text transform="translate(1140.3,654.6) rotate(-90) scale(1.035,1)" font-size="14.9" text-anchor="end">5/26</text>
<text transform="translate(1157.1,654.6) rotate(-90) scale(1.035,1)" font-size="14.9" text-anchor="end">5/27</text>
<text transform="translate(1173.9,654.6) rotate(-90) scale(1.035,1)" font-size="14.9" text-anchor="end">5/28</text>
<text transform="translate(1190.7,654.6) rotate(-90) scale(1.035,1)" font-size="14.9" text-anchor="end">5/29</text>
<text transform="translate(1207.6,654.6) rotate(-90) scale(1.035,1)" font-size="14.9" text-anchor="end">5/30</text>
<text transform="translate(1224.4,654.6) rotate(-90) scale(1.035,1)" font-size="14.9" text-anchor="end">5/31</text>
<text transform="translate(1241.2,654.6) rotate(-90) scale(1.035,1)" font-size="14.9" text-anchor="end">6/1</text>
<text transform="translate(1258.0,654.6) rotate(-90) scale(1.035,1)" font-size="14.9" text-anchor="end">6/2</text>
<text transform="translate(29.9,522.6) rotate(-90)" font-size="20.5" font-weight="bold" textLength="409.4" lengthAdjust="spacingAndGlyphs">Approximate Number of Completed Tests</text>
<text x="594.5" y="711.5" font-size="17.5" font-weight="bold" textLength="201" lengthAdjust="spacingAndGlyphs">Date Reported to MDH</text>
</svg></body></html>
